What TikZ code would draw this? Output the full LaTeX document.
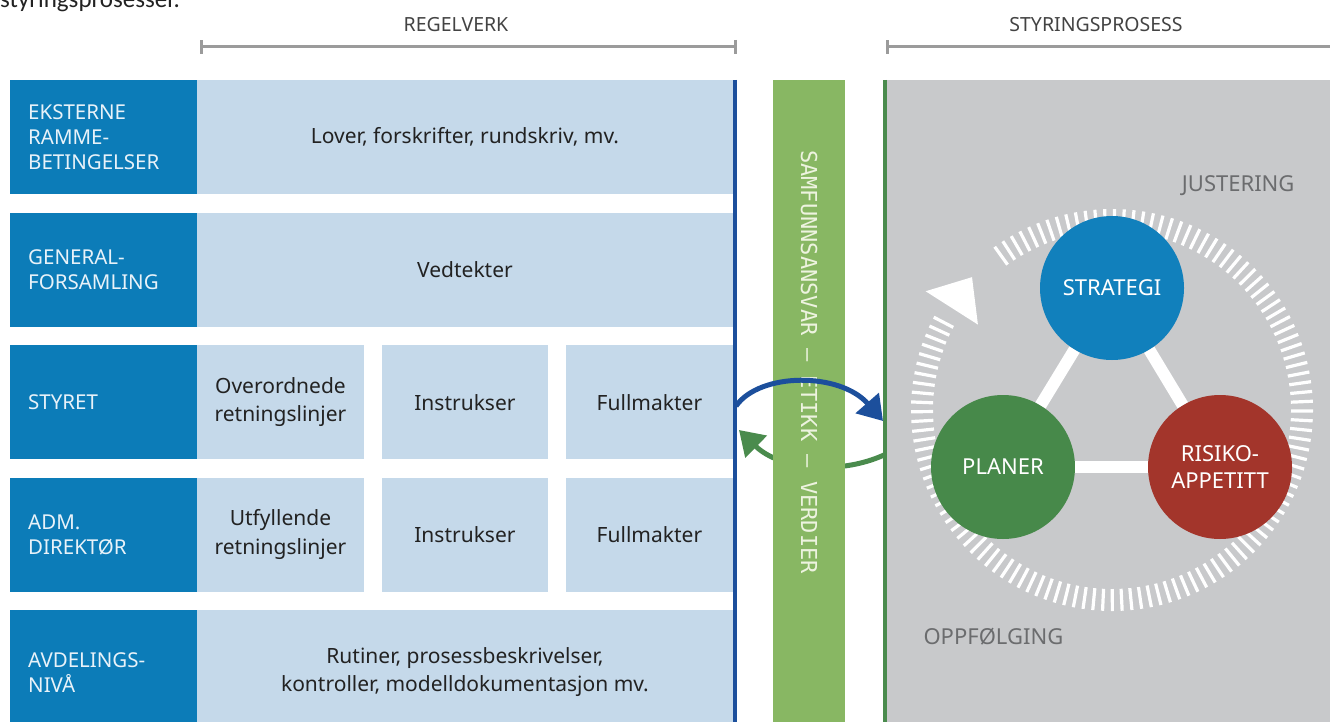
\documentclass[tikz,border=0pt]{standalone}
\usepackage{fontspec}
\setmainfont{Noto Sans}
\newfontfamily\monofont{DejaVu Sans Mono}
\newfontfamily\introfont{Carlito}
\usepackage{xcolor}
\usetikzlibrary{arrows.meta,calc,positioning}
\definecolor{headblue}{HTML}{0C7CB8}
\definecolor{headtext}{HTML}{E8F2F9}
\definecolor{cellblue}{HTML}{C5D9EA}
\definecolor{celltext}{HTML}{222222}
\definecolor{lineblue}{HTML}{1C4F9C}
\definecolor{barg}{HTML}{88B763}
\definecolor{bartext}{HTML}{EDF3DF}
\definecolor{lineg}{HTML}{4A8B4D}
\definecolor{panelgray}{HTML}{C8C9CB}
\definecolor{stratblue}{HTML}{1180BC}
\definecolor{plangreen}{HTML}{47894A}
\definecolor{riskred}{HTML}{A3352B}
\definecolor{graytext}{HTML}{6B6C6E}
\definecolor{bracketgray}{HTML}{9B9B9B}
\tikzset{%
	headbox/.style  = {fill=headblue, text=headtext, anchor=north west, minimum width=187pt, minimum height=114pt, text width=151pt, inner xsep=18pt, inner ysep=0pt, align=left, font=\fontsize{20.5}{25}\selectfont},
	rulebox/.style  = {fill=cellblue, text=celltext, anchor=north west, minimum height=114pt, inner sep=0pt, align=center, font=\fontsize{21}{28.5}\selectfont},
	widebox/.style  = {rulebox, minimum width=535.5pt},
	cellbox/.style  = {rulebox, minimum width=166.5pt},
	phase/.style    = {circle, minimum size=144pt, inner sep=0pt, align=center, text=white, font=\fontsize{22}{27}\selectfont},
	ringtick/.style = {white, line width=3.2pt},
	flow/.style     = {line width=5pt, -{Triangle[length=24pt,width=30pt]}},
	cyclabel/.style = {text=graytext, font=\fontsize{22}{26}\selectfont},
	toplabel/.style = {text=celltext!85, font=\fontsize{19.5}{22}\selectfont},
	bracket/.style  = {draw=bracketgray, line width=3pt},
}

\begin{document}
\begin{tikzpicture}[x=1pt,y=-1pt]
	\useasboundingbox (0,0) rectangle (1330,722);
	\clip (0,0) rectangle (1330,722);
	\node[anchor=base west, inner sep=0pt, text=celltext, font=\introfont\fontsize{25}{28}\selectfont] (intro) at (0,8) {styringsprosesser.};
	
	% headings
	\node[toplabel] (regel) at (456,25) {REGELVERK};
	\node[toplabel] (styr) at (1096,25) {STYRINGSPROSESS};
	\coordinate (regl) at (200,47);
	\coordinate (regr) at (737,47);
	\coordinate (styl) at (886,47);
	\coordinate (styr2) at (1340,47);
	\draw[bracket, {Bar[width=14pt]}-{Bar[width=14pt]}] (regl) -- (regr);
	\draw[bracket, {Bar[width=14pt]}-] (styl) -- (styr2);
	
	% regelverk
	\node[headbox] (h1) at (10,80) {EKSTERNE\\RAMME-\\BETINGELSER};
	\node[widebox] (r1) at (197,80) {Lover, forskrifter, rundskriv, mv.};
	\node[headbox] (h2) at (10,212.5) {GENERAL-\\FORSAMLING};
	\node[widebox] (r2) at (197,212.5) {Vedtekter};
	\node[headbox] (h3) at (10,345) {STYRET};
	\node[cellbox] (r3a) at (197,345) {Overordnede\\retningslinjer};
	\node[cellbox] (r3b) at (381.5,345) {Instrukser};
	\node[cellbox] (r3c) at (566,345) {Fullmakter};
	\node[headbox] (h4) at (10,477.5) {ADM.\\DIREKTØR};
	\node[cellbox] (r4a) at (197,477.5) {Utfyllende\\retningslinjer};
	\node[cellbox] (r4b) at (381.5,477.5) {Instrukser};
	\node[cellbox] (r4c) at (566,477.5) {Fullmakter};
	\node[headbox, minimum height=124pt] (h5) at (10,610) {AVDELINGS-\\NIVÅ};
	\node[widebox, minimum height=124pt] (r5) at (197,610) {Rutiner, prosessbeskrivelser,\\kontroller, modelldokumentasjon mv.};
	\coordinate (bt) at (734.5,80);
	\coordinate (bb) at (734.5,722);
	\draw[lineblue, line width=4pt] (bt) -- (bb);
	
	% styringsprosess
	\node[fill=panelgray, anchor=north west, minimum width=446pt, minimum height=642pt, inner sep=0pt] (panel) at (884,80) {};
	\coordinate (gt) at (884.5,80);
	\coordinate (gb) at (884.5,722);
	\draw[lineg, line width=4pt] (gt) -- (gb);
	
	% arrows and the bar between
	\coordinate (govout) at (736,406);
	\coordinate (govin) at (883,421);
	\coordinate (feedout) at (884,455);
	\coordinate (feedin) at (739,430);
	\draw[flow, lineg] (feedout) .. controls (840,475) and (780,470) .. (feedin);
	\node[fill=barg, anchor=north west, minimum width=72pt, minimum height=642pt, inner sep=0pt] (bar) at (773,80) {};
	\node[rotate=-90, text=bartext, font=\monofont\fontsize{22}{22}\selectfont] (ethics) at (809,362) {SAMFUNNSANSVAR – ETIKK – VERDIER};
	\draw[flow, lineblue] (govout) .. controls (760,372) and (840,372) .. (govin);
	
	% cycle
	\coordinate (ring) at (1112,410);
	\foreach \i in {0,...,119}
		\draw[ringtick] ($(ring)+({125.7-2.8*\i}:179pt)$) -- ($(ring)+({125.7-2.8*\i}:201pt)$);
	\fill[white] ($(ring)+(147.5:159pt)$) -- ($(ring)+(147.5:221pt)$) -- ($(ring)+(136.5:193pt)$) -- cycle;
	\node[phase, fill=stratblue] (strat) at (1112,288) {STRATEGI};
	\node[phase, fill=plangreen] (plan) at (1003,467) {PLANER};
	\node[phase, fill=riskred] (risk) at (1220,467) {RISIKO-\\APPETITT};
	\draw[white, line width=12pt] (strat) -- (plan);
	\draw[white, line width=12pt] (plan) -- (risk);
	\draw[white, line width=12pt] (risk) -- (strat);
	\node[cyclabel, anchor=east] (adjust) at (1298,186) {JUSTERING};
	\node[cyclabel, anchor=west] (follow) at (920,637) {OPPFØLGING};
\end{tikzpicture}
\end{document}
